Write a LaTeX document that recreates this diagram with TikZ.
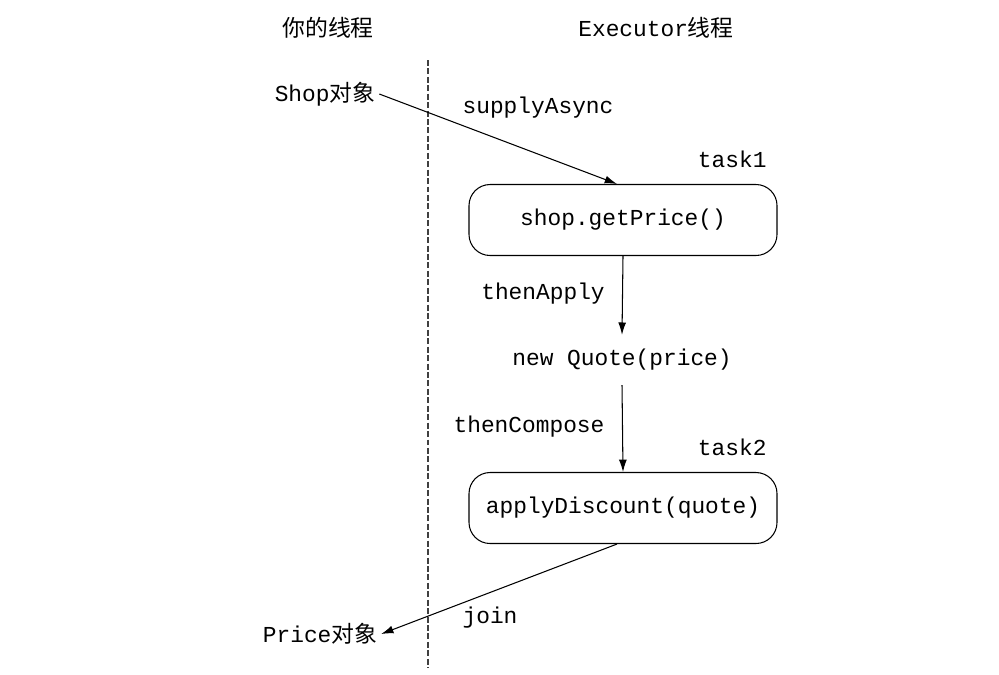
\documentclass[tikz,border=0pt]{standalone}
\usepackage{fontspec}
\setmonofont{Liberation Mono}
\newfontfamily\cjk{Noto Sans CJK SC}
\usetikzlibrary{positioning, arrows.meta}

\begin{document}
\begin{tikzpicture}[x=0.02cm, y=-0.02cm, >={Latex[length=7pt, width=4.5pt]}, line width=0.6pt,
    txt/.style={font=\fontsize{13}{15}\selectfont\ttfamily, inner sep=2pt},
    task/.style={txt, draw, rounded corners=12pt, minimum width=308*0.02cm, minimum height=71*0.02cm}]
    \useasboundingbox (0,0) rectangle (999,674);

    % Coordinates
    \coordinate (top) at (428,60);
    \coordinate (bot) at (428,668);

    % Titles
    \node[txt] (you) at (328,28) {{\cjk 你的线程}};
    \node[txt] (exec) at (656,28) {Executor{\cjk 线程}};

    % Thread border
    \draw[black!75, dash pattern=on 3.4pt off 1.4pt] (top) -- (bot);

    % Text
    \node[txt] (shop) at (325,94) {Shop{\cjk 对象}};
    \node[txt] (price) at (320,634) {Price{\cjk 对象}};

    % Tasks
    \node[task] (t1) at (623,220) {shop.getPrice()};
    \node[txt, above left=7pt and 4pt of t1.north east] (n1) {task1};
    \node[txt] (q) at (622,360) {new Quote(price)};
    \node[task] (t2) at (623,508) {applyDiscount(quote)};
    \node[txt, above left=7pt and 4pt of t2.north east] (n2) {task2};

    % Labels
    \node[txt] (sa) at (538,108) {supplyAsync};
    \node[txt] (ta) at (543,294) {thenApply};
    \node[txt] (tc) at (529,427) {thenCompose};
    \node[txt] (j) at (490,618) {join};

    % Lines
    \draw[->] (shop.east) -- ([xshift=-6*0.02cm]t1.north);
    \draw[->] (t1.south) -- ([yshift=6pt]q.north);
    \draw[->] ([yshift=-6pt]q.south) -- (t2.north);
    \draw[->] ([xshift=-6*0.02cm]t2.south) -- (price.east);
\end{tikzpicture}
\end{document}
